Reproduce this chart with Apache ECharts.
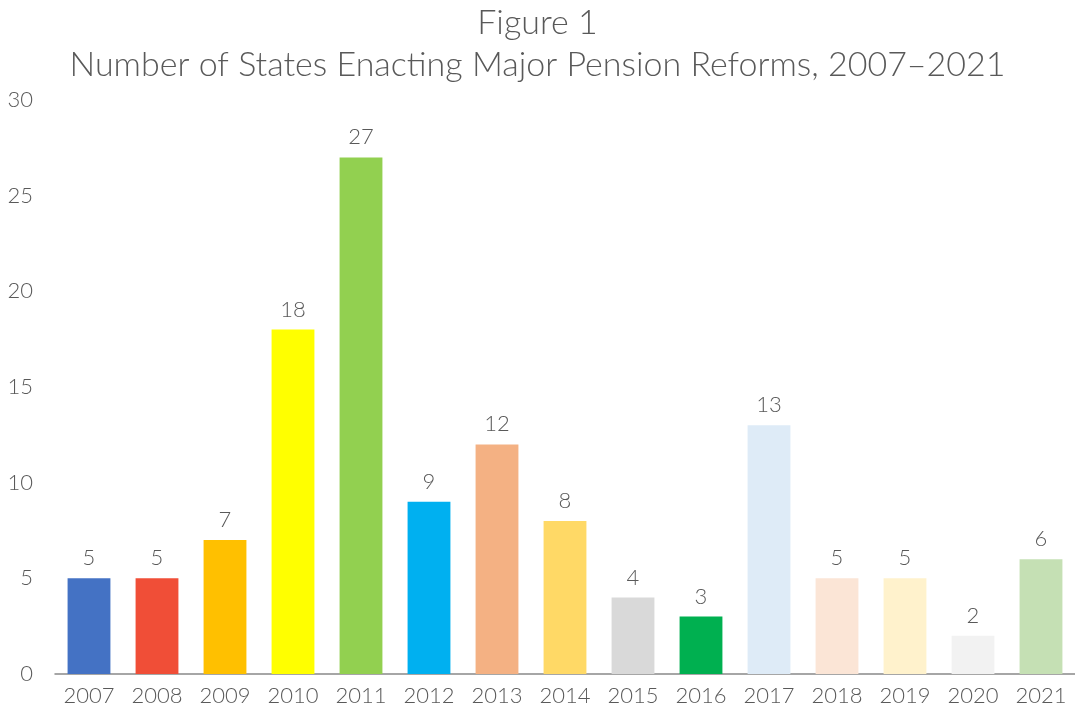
<!DOCTYPE html>
<html>
<head>
<meta charset="utf-8">
<script src="https://cdn.jsdelivr.net/npm/echarts@6/dist/echarts.min.js"></script>
<style>
  html, body { margin: 0; padding: 0; background: #fff; }
  #chartId { width: 1075px; height: 713px; }
</style>
</head>
<body>
<div id="chartId"></div>
<script>
// data
var years = ['2007', '2008', '2009', '2010', '2011', '2012', '2013', '2014', '2015', '2016', '2017', '2018', '2019', '2020', '2021']
var reforms = [5, 5, 7, 18, 27, 9, 12, 8, 4, 3, 13, 5, 5, 2, 6]
var barColors = ['#4472C4', '#F04E37', '#FFC000', '#FFFF00', '#92D050', '#00B0F0', '#F4B183', '#FFD966',
  '#D9D9D9', '#00B050', '#DEEBF7', '#FBE5D6', '#FFF2CC', '#F2F2F2', '#C5E0B4']

var fontName = 'Lato'
var textColor = '#595959'

var myBarChart = echarts.init(document.getElementById('chartId'))
myBarChart.setOption({
  animation: false,
  title: {
    text: 'Figure 1\nNumber of States Enacting Major Pension Reforms, 2007\u20132021',
    left: 'center',
    top: -3,
    textStyle: {
      color: textColor,
      fontFamily: fontName,
      fontWeight: 300,
      fontSize: 34,
      lineHeight: 42
    }
  },
  grid: {
    left: 55,
    right: -9,
    top: 100,
    bottom: 39
  },
  xAxis: {
    type: 'category',
    data: years,
    axisTick: { show: false },
    axisLine: { lineStyle: { color: '#898989', width: 1.5 } },
    axisLabel: {
      color: textColor,
      fontFamily: fontName,
      fontWeight: 300,
      fontSize: 22,
      margin: 11
    }
  },
  yAxis: {
    type: 'value',
    min: 0,
    max: 30,
    interval: 5,
    splitLine: { show: false },
    axisLine: { show: false },
    axisTick: { show: false },
    axisLabel: {
      color: textColor,
      fontFamily: fontName,
      fontWeight: 300,
      fontSize: 22,
      margin: 22
    }
  },
  series: [
    {
      type: 'bar',
      barWidth: '63%',
      data: reforms.map(function (v, i) {
        return { value: v, itemStyle: { color: barColors[i] } }
      }),
      label: {
        show: true,
        position: 'top',
        distance: 9,
        color: textColor,
        fontFamily: fontName,
        fontWeight: 300,
        fontSize: 22
      }
    }
  ]
})
</script>
</body>
</html>
